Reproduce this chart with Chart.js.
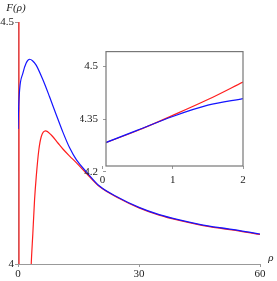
<!DOCTYPE html>
<html>
<head>
<meta charset="utf-8">
<script src="https://cdn.jsdelivr.net/npm/chart.js@4.4.1/dist/chart.umd.min.js"></script>
<style>
  html, body { margin: 0; padding: 0; background: #fff; }
  #wrap { position: relative; width: 277px; height: 281px; }
  #main { position: absolute; left: 0; top: 0; }
  #inset { position: absolute; left: 80px; top: 40px; }
</style>
</head>
<body>
<div id="wrap">
  <canvas id="main" width="277" height="281"></canvas>
  <canvas id="inset" width="177" height="150"></canvas>
</div>
<script>
// Curva blu del grafico principale
let bluRho = [0, 0.1, 0.4, 1.2, 2, 2.9, 3.6, 4.5, 6.2, 7.8, 9.5, 11.1, 12.8, 14.5, 17, 20.2, 25, 30, 35, 40, 45, 50, 55, 60];
let bluF = [4.279, 4.31, 4.36, 4.394, 4.415, 4.423, 4.42, 4.411, 4.38, 4.346, 4.308, 4.273, 4.240, 4.215, 4.190, 4.161, 4.137, 4.117, 4.102, 4.091, 4.082, 4.075, 4.069, 4.062];

// Curva rossa: ramo vicino a zero (verticale) e ramo principale
let rossoPoloRho = [0.24, 0.26];
let rossoPoloF = [4.6, 3.9];
let rossoRho = [3.2, 3.28, 3.68, 4.1, 4.52, 5.17, 5.76, 6.83, 8.25, 9.89, 11.13, 12.8, 14.5, 17, 20.2, 25, 30, 35, 40, 45, 50, 55, 60];
let rossoF = [3.98, 4.0, 4.063, 4.132, 4.18, 4.236, 4.263, 4.275, 4.2665, 4.250, 4.2376, 4.223, 4.209, 4.187, 4.160, 4.136, 4.116, 4.101, 4.090, 4.081, 4.074, 4.068, 4.061];

// Riquadro interno (zoom su 0 < rho < 2)
let insetRho = [0, 0.5, 1, 1.5, 2];
let insetBlu = [4.28, 4.319, 4.358, 4.39, 4.409];
let insetRosso = [4.28, 4.318, 4.361, 4.406, 4.456];

// Etichette degli assi
let xTicks = [0, 30, 60];
let yTicks = [4, 4.5];
let insetXTicks = [0, 1, 2];
let insetYTicks = [4.2, 4.35, 4.5];

const punti = (xs, ys) => xs.map((x, i) => ({ x: x, y: ys[i] }));
const serif = { family: '"Liberation Serif", "DejaVu Serif", serif', size: 11 };
const BLU = 'rgb(20, 20, 255)';
const ROSSO = 'rgb(255, 30, 30)';
const testo = v => String(v);

// Testi F(rho) e rho sul grafico principale
const etichette = {
    id: 'etichette',
    afterDraw(chart) {
        const ctx = chart.ctx;
        ctx.save();
        ctx.fillStyle = '#222';
        ctx.font = 'italic 11px "Liberation Serif", serif';
        ctx.textAlign = 'center';
        ctx.textBaseline = 'middle';
        ctx.fillText('F(\u03c1)', 16, 8);
        ctx.fillText('\u03c1', 271, 258);
        ctx.restore();
    }
};

// Cornice del riquadro interno
const cornice = {
    id: 'cornice',
    afterDraw(chart) {
        const { ctx, chartArea: a } = chart;
        ctx.save();
        ctx.strokeStyle = '#777';
        ctx.lineWidth = 1.2;
        ctx.strokeRect(a.left, a.top, a.right - a.left, a.bottom - a.top);
        ctx.restore();
    }
};

const linea = (data, colore, curva) => ({
    data: data,
    borderColor: colore,
    borderWidth: 1.2,
    pointRadius: 0,
    fill: false,
    cubicInterpolationMode: curva ? 'monotone' : 'default',
    tension: 0
});

const mainChart = new Chart(document.getElementById('main'), {
    type: 'line',
    data: {
        datasets: [
            linea(punti(bluRho, bluF), BLU, true),
            linea(punti(rossoRho, rossoF), ROSSO, true),
            linea(punti(rossoPoloRho, rossoPoloF), ROSSO, false)
        ]
    },
    options: {
        responsive: false,
        animation: false,
        layout: { padding: { top: 22, right: 17, left: 0, bottom: 0 } },
        plugins: { legend: { display: false }, tooltip: { enabled: false } },
        scales: {
            x: {
                type: 'linear', min: 0, max: 60,
                afterBuildTicks: s => { s.ticks = xTicks.map(v => ({ value: v })); },
                afterFit: s => { s.height = 17; },
                grid: { drawOnChartArea: false, tickLength: 3, color: '#999' },
                border: { color: '#999', width: 1 },
                ticks: { padding: 1, color: '#222', font: serif, maxRotation: 0, autoSkip: false, callback: testo }
            },
            y: {
                min: 4, max: 4.5,
                afterBuildTicks: s => { s.ticks = yTicks.map(v => ({ value: v })); },
                afterFit: s => { s.width = 18; },
                grid: { drawOnChartArea: false, tickLength: 3, color: '#999' },
                border: { color: '#999', width: 1 },
                ticks: { padding: 1, color: '#222', font: serif, autoSkip: false, callback: testo }
            }
        }
    },
    plugins: [etichette]
});

const insetChart = new Chart(document.getElementById('inset'), {
    type: 'line',
    data: {
        datasets: [
            linea(punti(insetRho, insetBlu), BLU, true),
            linea(punti(insetRho, insetRosso), ROSSO, true)
        ]
    },
    options: {
        responsive: false,
        animation: false,
        layout: { padding: { top: 11, right: 14, left: 0, bottom: 0 } },
        plugins: { legend: { display: false }, tooltip: { enabled: false } },
        scales: {
            x: {
                type: 'linear', min: 0.05, max: 2,
                afterBuildTicks: s => { s.ticks = insetXTicks.map(v => ({ value: v })); },
                afterFit: s => { s.height = 24; },
                grid: { drawOnChartArea: false, tickLength: 3, color: '#999' },
                border: { display: false },
                ticks: { padding: 5, color: '#222', font: serif, maxRotation: 0, autoSkip: false, callback: testo }
            },
            y: {
                min: 4.217, max: 4.5425,
                afterBuildTicks: s => { s.ticks = insetYTicks.map(v => ({ value: v })); },
                afterFit: s => { s.width = 26; },
                grid: { drawOnChartArea: false, tickLength: 3, color: '#999' },
                border: { display: false },
                ticks: { padding: 5, color: '#222', font: serif, autoSkip: false, callback: testo }
            }
        }
    },
    plugins: [cornice]
});
</script>
</body>
</html>
